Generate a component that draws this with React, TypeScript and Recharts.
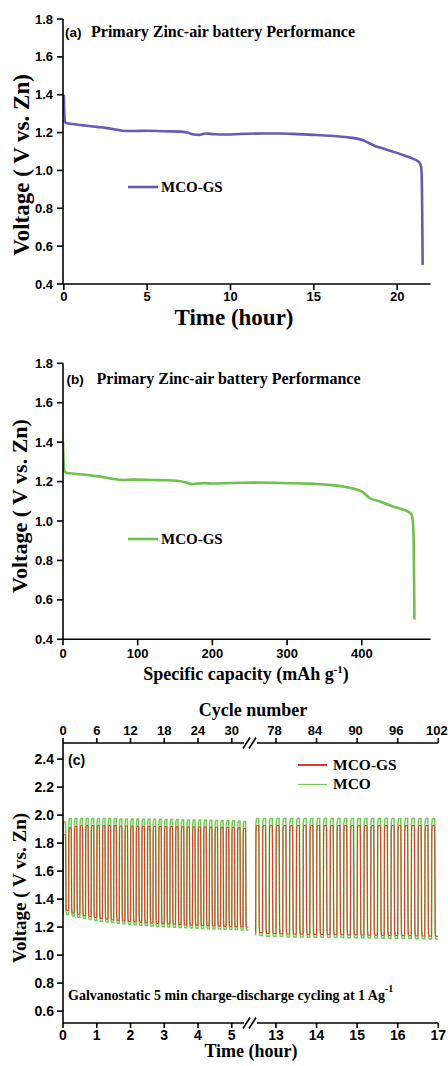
import { LineChart, Line, XAxis, YAxis } from "recharts";

// (a) discharge curve vs time
const A_TIME = [0, 0.02, 0.06, 0.15, 0.5, 1, 1.5, 2, 2.5, 3, 3.5, 4, 5, 6, 7, 7.4, 7.8, 8.1, 8.5, 9, 9.5, 10, 11, 12, 13, 14, 15, 16, 17, 17.6, 18, 18.3, 18.7, 19.2, 19.8, 20.4, 21, 21.3, 21.42, 21.47, 21.5, 21.53];
const A_VOLT = [1.4, 1.33, 1.26, 1.25, 1.245, 1.24, 1.235, 1.23, 1.225, 1.218, 1.21, 1.208, 1.21, 1.207, 1.205, 1.2, 1.19, 1.188, 1.195, 1.192, 1.19, 1.19, 1.194, 1.195, 1.195, 1.192, 1.188, 1.183, 1.175, 1.168, 1.158, 1.145, 1.128, 1.115, 1.098, 1.08, 1.06, 1.045, 1.025, 0.98, 0.8, 0.5];
const A_T_TICKS = [0, 5, 10, 15, 20];

// (b) discharge curve vs specific capacity
const B_CAP = [0, 0.5, 1.5, 4, 15, 30, 50, 65, 80, 95, 120, 140, 155, 165, 172, 180, 190, 200, 220, 240, 263, 290, 320, 340, 360, 375, 385, 393, 400, 410, 425, 441, 455, 462, 466, 468, 469.5, 470.5];
const B_VOLT = [1.4, 1.33, 1.26, 1.245, 1.24, 1.235, 1.225, 1.215, 1.208, 1.21, 1.208, 1.207, 1.203, 1.195, 1.187, 1.19, 1.192, 1.19, 1.192, 1.194, 1.195, 1.193, 1.19, 1.188, 1.182, 1.175, 1.168, 1.16, 1.15, 1.118, 1.098, 1.075, 1.058, 1.048, 1.035, 1.01, 0.9, 0.5];
const B_C_TICKS = [0, 100, 200, 300, 400];

const AB_V_TICKS = [0.4, 0.6, 0.8, 1.0, 1.2, 1.4, 1.6, 1.8];

// (c) galvanostatic cycling, 5 min charge + 5 min discharge
const CYCLES_PER_HOUR = 6;
const SEG1_FIRST_CYCLE = 0;
const SEG2_FIRST_CYCLE = 75;

const MCO_CHG_1 = [1.95, 1.975, 1.975, 1.975, 1.975, 1.975, 1.975, 1.975, 1.975, 1.975, 1.972, 1.972, 1.972, 1.972, 1.97, 1.97, 1.97, 1.97, 1.968, 1.968, 1.968, 1.965, 1.965, 1.965, 1.965, 1.963, 1.963, 1.962, 1.962, 1.96, 1.96, 1.958, 1.955];
const MCO_DIS_1 = [1.29, 1.28, 1.27, 1.262, 1.255, 1.248, 1.242, 1.237, 1.232, 1.228, 1.224, 1.22, 1.217, 1.214, 1.211, 1.208, 1.205, 1.203, 1.201, 1.199, 1.197, 1.195, 1.193, 1.192, 1.19, 1.189, 1.187, 1.186, 1.184, 1.183, 1.182, 1.18, 1.178];
const GS_CHG_1 = [1.86, 1.91, 1.92, 1.925, 1.925, 1.925, 1.925, 1.925, 1.925, 1.925, 1.922, 1.922, 1.922, 1.92, 1.92, 1.92, 1.92, 1.918, 1.918, 1.918, 1.917, 1.917, 1.916, 1.916, 1.915, 1.915, 1.914, 1.914, 1.913, 1.912, 1.912, 1.91, 1.905];
const GS_DIS_1 = [1.32, 1.3, 1.29, 1.282, 1.275, 1.268, 1.262, 1.257, 1.252, 1.248, 1.244, 1.24, 1.237, 1.234, 1.231, 1.228, 1.226, 1.224, 1.222, 1.22, 1.218, 1.216, 1.214, 1.213, 1.211, 1.21, 1.208, 1.207, 1.205, 1.204, 1.203, 1.202, 1.2];

const MCO_CHG_2 = [1.975, 1.975, 1.975, 1.975, 1.975, 1.975, 1.975, 1.975, 1.975, 1.975, 1.975, 1.975, 1.975, 1.975, 1.975, 1.975, 1.975, 1.975, 1.975, 1.975, 1.975, 1.975, 1.975, 1.975, 1.975, 1.975, 1.975];
const MCO_DIS_2 = [1.14, 1.135, 1.133, 1.132, 1.13, 1.13, 1.129, 1.128, 1.128, 1.127, 1.126, 1.126, 1.125, 1.124, 1.124, 1.123, 1.122, 1.122, 1.121, 1.12, 1.12, 1.119, 1.118, 1.117, 1.116, 1.115, 1.114];
const GS_CHG_2 = [1.925, 1.925, 1.925, 1.925, 1.925, 1.925, 1.925, 1.925, 1.925, 1.925, 1.925, 1.925, 1.925, 1.925, 1.925, 1.925, 1.925, 1.925, 1.925, 1.925, 1.925, 1.925, 1.925, 1.925, 1.925, 1.925, 1.925];
const GS_DIS_2 = [1.16, 1.155, 1.153, 1.152, 1.15, 1.15, 1.149, 1.148, 1.148, 1.147, 1.146, 1.146, 1.145, 1.144, 1.144, 1.143, 1.142, 1.142, 1.141, 1.14, 1.14, 1.139, 1.138, 1.137, 1.136, 1.135, 1.134];

const C_V_TICKS = [0.6, 0.8, 1.0, 1.2, 1.4, 1.6, 1.8, 2.0, 2.2, 2.4];
const C_LEFT_H_TICKS = [0, 1, 2, 3, 4, 5];
const C_RIGHT_H_TICKS = [13, 14, 15, 16, 17];
const C_LEFT_CYC_TICKS = [0, 6, 12, 18, 24, 30];
const C_RIGHT_CYC_TICKS = [78, 84, 90, 96, 102];

const PURPLE = "#6b58b8";
const GREEN_B = "#6cc24a";
const RED = "#e0352a";
const GREEN_C = "#74c955";

const SANS = "'Liberation Sans', Arial, sans-serif";
const SERIF = "'Liberation Serif', 'Times New Roman', serif";

const A_DATA = A_TIME.map((t, i) => ({ t, v: A_VOLT[i] }));
const B_DATA = B_CAP.map((t, i) => ({ t, v: B_VOLT[i] }));

// each cycle: charge plateau then discharge plateau; t in hours, c in cycle number
function buildCycles(first: number, charge: number[], discharge: number[]) {
  const pts: { t: number; c: number; v: number }[] = [];
  const add = (c: number, v: number) => pts.push({ t: c / CYCLES_PER_HOUR, c, v });
  charge.forEach((hi, i) => {
    const lo = discharge[i];
    const s = first + i;
    const prev = i === 0 ? lo : discharge[i - 1];
    add(s, prev);
    add(s + 0.04, hi - 0.04);
    add(s + 0.14, hi);
    add(s + 0.46, hi);
    add(s + 0.54, lo + 0.04);
    add(s + 0.64, lo);
    add(s + 0.96, lo);
  });
  return pts;
}

const MCO_1 = buildCycles(SEG1_FIRST_CYCLE, MCO_CHG_1, MCO_DIS_1);
const GS_1 = buildCycles(SEG1_FIRST_CYCLE, GS_CHG_1, GS_DIS_1);
const MCO_2 = buildCycles(SEG2_FIRST_CYCLE, MCO_CHG_2, MCO_DIS_2);
const GS_2 = buildCycles(SEG2_FIRST_CYCLE, GS_CHG_2, GS_DIS_2);

const frame = { stroke: "#000", strokeWidth: 1.6 };
const tick13 = { fill: "#000", fontSize: 13, fontWeight: 700, fontFamily: SANS };
const tick14 = { fill: "#000", fontSize: 14, fontWeight: 700, fontFamily: SANS };
const fmt1 = (v: number) => v.toFixed(1);

const C_DOMAIN: [number, number] = [0.515, 2.515];
const SEG1_DOMAIN: [number, number] = [0, 5.54];
const SEG2_DOMAIN: [number, number] = [12.36, 17];

function SimplePanel({ data, color, xDomain, xTicks, yTop, topMargin, height, xHeight, tickMargin }: any) {
  return (
    <div style={{ position: "absolute", left: 0, top: yTop }}>
      <LineChart width={448} height={height} margin={{ top: topMargin, right: 17.5, bottom: 0, left: 0 }}>
        <XAxis dataKey="t" type="number" domain={xDomain} ticks={xTicks} interval={0} allowDataOverflow
          height={xHeight} axisLine={frame} tickLine={frame} tickSize={6} tickMargin={tickMargin} tick={tick13} />
        <XAxis xAxisId="top" orientation="top" type="number" domain={xDomain} allowDataOverflow
          height={0} tick={false} tickLine={false} axisLine={frame} />
        <YAxis type="number" domain={[0.4, 1.8]} ticks={AB_V_TICKS} interval={0} allowDataOverflow width={63}
          axisLine={frame} tickLine={frame} tickSize={6} tickMargin={4} tick={tick13} tickFormatter={fmt1} />
        <YAxis yAxisId="right" orientation="right" type="number" domain={[0.4, 1.8]} width={0}
          tick={false} tickLine={false} axisLine={frame} />
        <Line data={data} dataKey="v" type="monotone" stroke={color} strokeWidth={2.6} dot={false} isAnimationActive={false} />
      </LineChart>
    </div>
  );
}

export default function App() {
  return (
    <div style={{ position: "absolute", left: 0, top: 0, width: 448, height: 1066, background: "#fff", overflow: "hidden" }}>
      <SimplePanel data={A_DATA} color={PURPLE} xDomain={[-0.05, 22]} xTicks={A_T_TICKS} yTop={0} topMargin={19} height={320} xHeight={36} tickMargin={2} />
      <SimplePanel data={B_DATA} color={GREEN_B} xDomain={[0, 492]} xTicks={B_C_TICKS} yTop={340} topMargin={23.3} height={320} xHeight={20.7} tickMargin={3} />

      {/* (c) left segment */}
      <div style={{ position: "absolute", left: 0, top: 700 }}>
        <LineChart width={250} height={360} margin={{ top: 0, right: 0, bottom: 0, left: 0 }}>
          <XAxis dataKey="t" type="number" domain={SEG1_DOMAIN} ticks={C_LEFT_H_TICKS} interval={0} allowDataOverflow
            height={37} axisLine={frame} tickLine={frame} tickSize={5} tickMargin={2} tick={tick14} />
          <XAxis xAxisId="cyc" dataKey="c" orientation="top" type="number" domain={[0, 33.24]} ticks={C_LEFT_CYC_TICKS} interval={0}
            allowDataOverflow height={43} axisLine={frame} tickLine={frame} tickSize={5} tickMargin={3} tick={tick13} />
          <YAxis type="number" domain={C_DOMAIN} ticks={C_V_TICKS} interval={0} allowDataOverflow width={63}
            axisLine={frame} tickLine={frame} tickSize={6} tickMargin={3} tick={tick14} tickFormatter={fmt1} />
          <Line data={MCO_1} xAxisId="cyc" dataKey="v" type="monotone" stroke={GREEN_C} strokeWidth={1.5} dot={false} isAnimationActive={false} />
          <Line data={GS_1} dataKey="v" type="monotone" stroke={RED} strokeWidth={1} dot={false} isAnimationActive={false} />
        </LineChart>
      </div>

      {/* (c) right segment */}
      <div style={{ position: "absolute", left: 250, top: 700 }}>
        <LineChart width={198} height={360} margin={{ top: 0, right: 9.7, bottom: 0, left: 0 }}>
          <XAxis dataKey="t" type="number" domain={SEG2_DOMAIN} ticks={C_RIGHT_H_TICKS} interval={0} allowDataOverflow
            height={37} axisLine={frame} tickLine={frame} tickSize={5} tickMargin={2} tick={tick14} />
          <XAxis xAxisId="cyc" dataKey="c" orientation="top" type="number" domain={[74.16, 102]} ticks={C_RIGHT_CYC_TICKS} interval={0}
            allowDataOverflow height={43} axisLine={frame} tickLine={frame} tickSize={5} tickMargin={3} tick={{ ...tick13, dx: -1.5 }} />
          <YAxis type="number" domain={C_DOMAIN} allowDataOverflow hide />
          <YAxis yAxisId="right" orientation="right" type="number" domain={C_DOMAIN} width={0}
            tick={false} tickLine={false} axisLine={frame} />
          <Line data={MCO_2} xAxisId="cyc" dataKey="v" type="monotone" stroke={GREEN_C} strokeWidth={1.5} dot={false} isAnimationActive={false} />
          <Line data={GS_2} dataKey="v" type="monotone" stroke={RED} strokeWidth={1} dot={false} isAnimationActive={false} />
        </LineChart>
      </div>

      {/* titles, annotations, legends, axis-break marks */}
      <svg width={448} height={1066} style={{ position: "absolute", left: 0, top: 0, pointerEvents: "none" }}>
        <g fontWeight={700} fill="#000">
          {/* (a) */}
          <text x={65} y={37} fontFamily={SANS} fontSize={13.5}>(a)</text>
          <text x={91} y={37} fontFamily={SERIF} fontSize={16}>Primary Zinc-air battery Performance</text>
          <line x1={128} y1={187} x2={158} y2={187} stroke={PURPLE} strokeWidth={2.6} />
          <text x={161} y={192} fontFamily={SERIF} fontSize={15}>MCO-GS</text>
          <text x={234} y={325} fontFamily={SERIF} fontSize={23} textAnchor="middle">Time (hour)</text>
          <text transform="translate(29,165) rotate(-90)" fontFamily={SERIF} fontSize={23} textAnchor="middle">Voltage ( V vs. Zn)</text>

          {/* (b) */}
          <text x={66.5} y={384} fontFamily={SANS} fontSize={13.5}>(b)</text>
          <text x={96.5} y={384} fontFamily={SERIF} fontSize={16}>Primary Zinc-air battery Performance</text>
          <line x1={128} y1={539} x2={158} y2={539} stroke={GREEN_B} strokeWidth={2.6} />
          <text x={161} y={544} fontFamily={SERIF} fontSize={15}>MCO-GS</text>
          <text x={246} y={680} fontFamily={SERIF} fontSize={18} textAnchor="middle">
            Specific capacity (mAh g<tspan dy={-7} fontSize={11}>-1</tspan><tspan dy={7}>)</tspan>
          </text>
          <text transform="translate(27,506) rotate(-90)" fontFamily={SERIF} fontSize={22} textAnchor="middle">Voltage ( V vs. Zn)</text>

          {/* (c) */}
          <text x={253} y={716} fontFamily={SERIF} fontSize={18} textAnchor="middle">Cycle number</text>
          <text x={68} y={765} fontFamily={SANS} fontSize={14}>(c)</text>
          <line x1={298} y1={765} x2={327} y2={765} stroke={RED} strokeWidth={2} />
          <text x={333} y={770} fontFamily={SERIF} fontSize={15.5}>MCO-GS</text>
          <line x1={298} y1={784.5} x2={327} y2={784.5} stroke={GREEN_C} strokeWidth={1.2} />
          <text x={333} y={789} fontFamily={SERIF} fontSize={15.5}>MCO</text>
          <text x={68} y={1000} fontFamily={SERIF} fontSize={14}>
            Galvanostatic 5 min charge-discharge cycling at 1 Ag<tspan dy={-8} fontSize={10}>-1</tspan>
          </text>
          <text x={251} y={1057} fontFamily={SERIF} fontSize={18} textAnchor="middle">Time (hour)</text>
          <text transform="translate(26,888) rotate(-90)" fontFamily={SERIF} fontSize={19} textAnchor="middle">Voltage ( V vs. Zn)</text>
        </g>
        {[743, 1023].map((y) => (
          <g key={y}>
            <rect x={244} y={y - 3} width={13} height={6} fill="#fff" />
            <line x1={243} y1={y + 5.5} x2={250} y2={y - 5.5} stroke="#000" strokeWidth={1.6} />
            <line x1={249} y1={y + 5.5} x2={256} y2={y - 5.5} stroke="#000" strokeWidth={1.6} />
          </g>
        ))}
      </svg>
    </div>
  );
}
